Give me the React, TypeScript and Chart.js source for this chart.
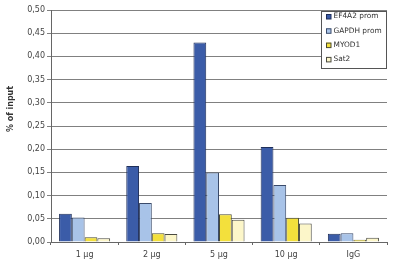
import React, { useEffect, useRef } from "react";
import { Chart, registerables } from "chart.js";

Chart.register(...registerables);

const categories = ["1 µg", "2 µg", "5 µg", "10 µg", "IgG"];
const seriesNames = ["EF4A2 prom", "GAPDH prom", "MYOD1", "Sat2"];
const ef4a2 = [0.061, 0.164, 0.43, 0.205, 0.018];
const gapdh = [0.053, 0.084, 0.15, 0.123, 0.019];
const myod1 = [0.01, 0.019, 0.06, 0.052, 0.005];
const sat2 = [0.008, 0.017, 0.048, 0.04, 0.009];
const yTicks = [0, 0.05, 0.1, 0.15, 0.2, 0.25, 0.3, 0.35, 0.4, 0.45, 0.5];
const yTitle = "% of input";

const fills = ["#3b5ca8", "#a8c3e8", "#f3e03c", "#fcf6c9"];
const borders = ["#1f2f5a", "#3a4a6a", "#4a4a30", "#4a4a40"];

const FONT = "'DejaVu Sans', sans-serif";

const customPlugin = {
  id: "custom",
  afterDraw(chart: any) {
    const ctx = chart.ctx;
    const ca = chart.chartArea;
    ctx.save();
    // y title
    ctx.font = `bold 8px ${FONT}`;
    ctx.fillStyle = "#333";
    ctx.textAlign = "center";
    ctx.textBaseline = "middle";
    ctx.translate(11, 109);
    ctx.rotate(-Math.PI / 2);
    ctx.fillText(yTitle, 0, 0);
    ctx.restore();

    // legend box
    ctx.save();
    const bx = ca.right - 66;
    const by = ca.top + 1;
    const bw = 66;
    const bh = 57;
    ctx.fillStyle = "#fff";
    ctx.fillRect(bx, by, bw, bh);
    ctx.strokeStyle = "#555";
    ctx.lineWidth = 1;
    ctx.strokeRect(bx + 0.5, by + 0.5, bw - 1, bh);
    ctx.font = `7.4px ${FONT}`;
    ctx.textAlign = "left";
    ctx.textBaseline = "middle";
    seriesNames.forEach((n, i) => {
      const y = by + 5.5 + i * 14.3;
      ctx.fillStyle = fills[i];
      ctx.fillRect(bx + 5, y - 2.5, 5, 5);
      ctx.strokeStyle = borders[i];
      ctx.strokeRect(bx + 5.5, y - 2, 4.5, 4.5);
      ctx.fillStyle = "#333";
      ctx.fillText(n, bx + 12.5, y);
    });
    ctx.restore();
  },
};

export default function App() {
  const ref = useRef<HTMLCanvasElement>(null);
  useEffect(() => {
    const datasets = [ef4a2, gapdh, myod1, sat2].map((d, i) => ({
      label: seriesNames[i],
      data: d,
      backgroundColor: fills[i],
      borderColor: borders[i],
      borderWidth: 1,
      borderSkipped: "bottom" as const,
      categoryPercentage: 0.76,
      barPercentage: 1,
    }));
    const chart = new Chart(ref.current!, {
      type: "bar",
      data: { labels: categories, datasets },
      plugins: [customPlugin],
      options: {
        animation: false,
        responsive: false,
        maintainAspectRatio: false,
        layout: { padding: { top: 10, right: 13, left: 0, bottom: 0 } },
        plugins: { legend: { display: false }, tooltip: { enabled: false } },
        scales: {
          x: {
            offset: true,
            grid: {
              offset: true,
              drawOnChartArea: false,
              drawTicks: true,
              tickLength: 3,
              color: "#666",
            },
            border: { color: "#666", width: 1 },
            ticks: {
              color: "#444",
              font: { size: 8, family: FONT },
              padding: 5,
            },
            afterFit: (s: any) => {
              s.height = 25;
            },
          },
          y: {
            min: 0,
            max: 0.5,
            afterBuildTicks: (s: any) => {
              s.ticks = yTicks.map((v) => ({ value: v }));
            },
            grid: { color: "#808080", tickLength: 4, lineWidth: 1 },
            border: { color: "#666", width: 1 },
            ticks: {
              color: "#444",
              font: { size: 8, family: FONT },
              padding: 2,
              callback: (v: any) => Number(v).toFixed(2).replace(".", ","),
            },
            afterFit: (s: any) => {
              s.width = 51;
            },
          },
        },
      },
    });
    return () => chart.destroy();
  }, []);
  return (
    <div style={{ position: "fixed", left: 0, top: 0, width: 400, height: 267, background: "#fff" }}>
      <canvas ref={ref} width={400} height={267} style={{ width: 400, height: 267 }} />
    </div>
  );
}
